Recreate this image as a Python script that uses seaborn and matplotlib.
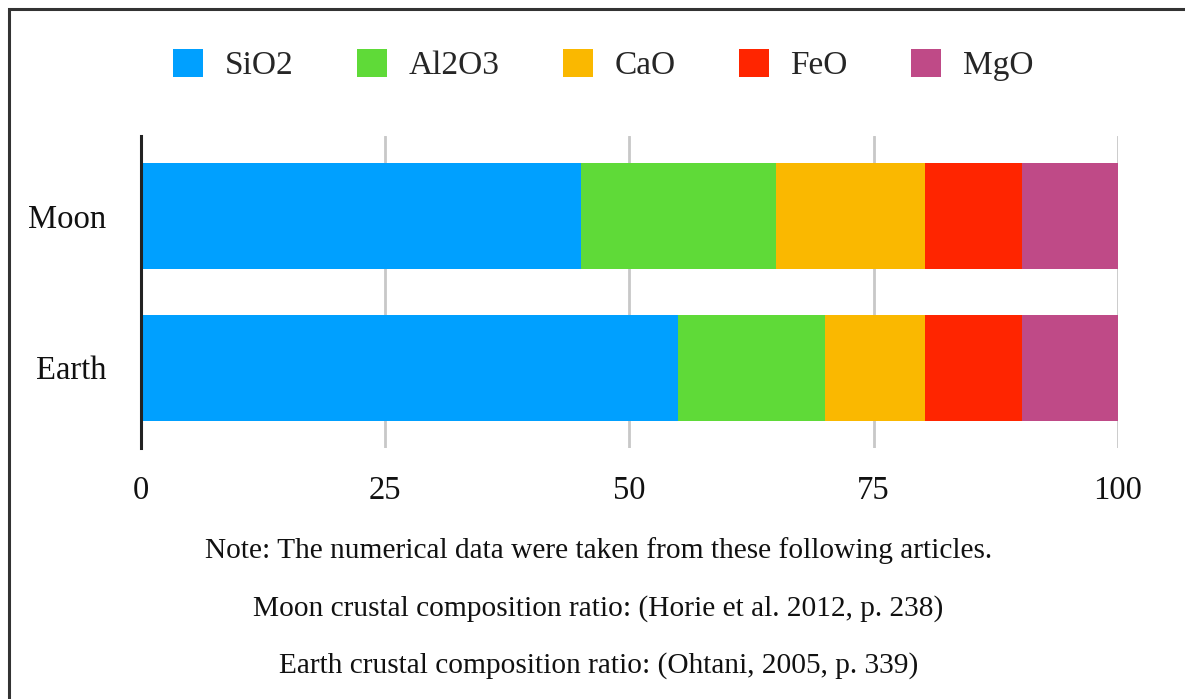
import matplotlib
matplotlib.use('Agg')
import matplotlib.pyplot as plt
import matplotlib.patches as mpatches
import seaborn as sns
import pandas as pd
import numpy as np

# data (percent of crust)
bodies = ['Moon', 'Earth']
oxides = ['SiO2', 'Al2O3', 'CaO', 'FeO', 'MgO']
moon_vals = [45.0, 20.0, 15.3, 9.9, 9.8]
earth_vals = [55.0, 15.0, 10.3, 9.9, 9.8]
colors = ['#00a0ff', '#5fda38', '#fab800', '#ff2500', '#bf4a87']
xticks = [0, 25, 50, 75, 100]
notes = ['Note: The numerical data were taken from these following articles.',
         'Moon crustal composition ratio: (Horie et al. 2012, p. 238)',
         'Earth crustal composition ratio: (Ohtani, 2005, p. 339)']

sns.set_style('white')
plt.rcParams['font.family'] = ['Liberation Serif', 'DejaVu Serif']

df = pd.DataFrame({'Moon': moon_vals, 'Earth': earth_vals}, index=oxides)
cum = df.cumsum()

fig = plt.figure(figsize=(11.85, 6.99), dpi=100)
ax = fig.add_axes([0.119, 0.3591, 0.8243, 0.4463])

# stacked bars: draw the cumulative totals from the right end backwards
for ox, col in zip(oxides[::-1], colors[::-1]):
    d = pd.DataFrame({'body': bodies, 'val': cum.loc[ox, bodies].values})
    sns.barplot(data=d, x='val', y='body', order=bodies, color=col,
                saturation=1, width=0.70, linewidth=0, ax=ax, orient='h')

ax.set_xlim(0, 100)
ax.set_ylim(1.53, -0.53)
ax.set_xticks(xticks)
ax.set_xticklabels([str(t) for t in xticks])
ax.set_xlabel('')
ax.set_ylabel('')
ax.tick_params(axis='both', length=0, labelsize=23.5, colors='#111111')
ax.tick_params(axis='x', pad=20)
ax.tick_params(axis='y', pad=25)
for t in xticks[1:]:
    ax.axvline(t, color='#c8c8c8', lw=2, zorder=0)
for s in ['top', 'right', 'bottom']:
    ax.spines[s].set_visible(False)
ax.spines['left'].set_color('#222222')
ax.spines['left'].set_linewidth(2.2)
ax.spines['left'].set_zorder(5)

handles = [mpatches.Patch(facecolor=c, edgecolor='none', label=o)
           for o, c in zip(oxides, colors)]
fig.legend(handles=handles, loc='center', bbox_to_anchor=(0.509, 0.907), ncol=5,
           frameon=False, fontsize=24, handlelength=0.9, handleheight=0.9,
           handletextpad=0.65, columnspacing=1.9)

for y, txt in zip([0.2118, 0.1288, 0.0475], notes):
    fig.text(0.505, y, txt, ha='center', va='center', fontsize=21.2, color='#111111')

# outer frame (cut off on the right and bottom)
fig.patches.append(mpatches.Rectangle((0.0076, -0.1), 1.2, 1.0871,
                                      transform=fig.transFigure, fill=False,
                                      edgecolor='#333333', lw=2.2))

fig.savefig('out.png', dpi=100, facecolor='white')
